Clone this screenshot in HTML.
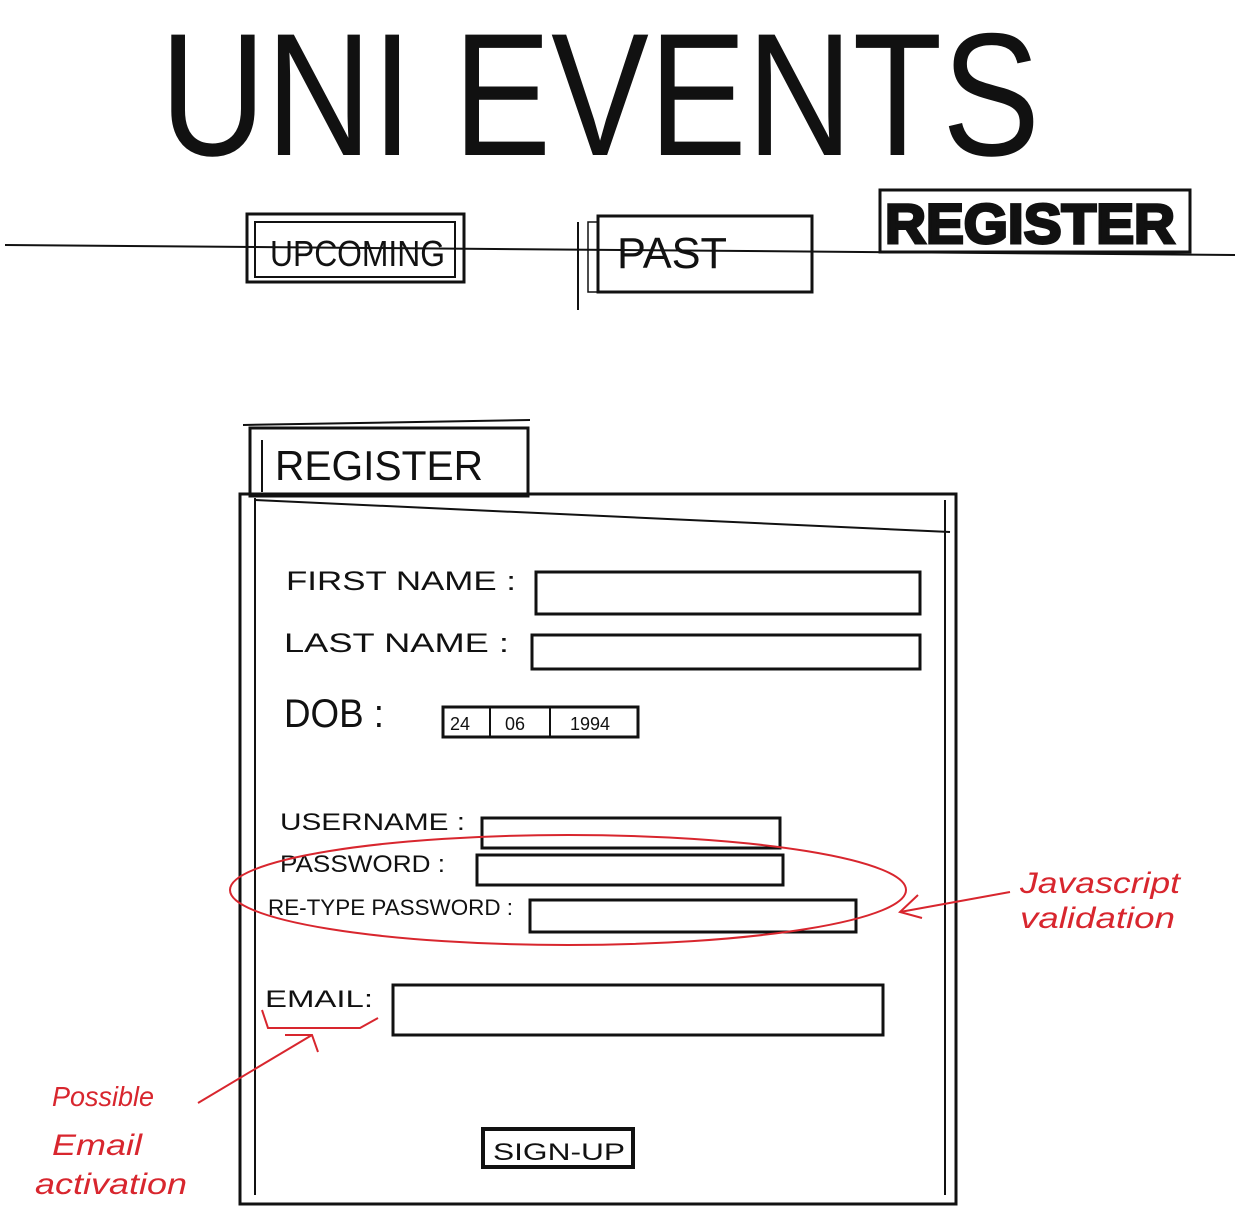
<!DOCTYPE html>
<html><head><meta charset="utf-8"><style>
html,body{margin:0;padding:0;background:#fff;width:1239px;height:1229px;overflow:hidden}
svg{display:block}
.t{font-family:"Liberation Sans",sans-serif;fill:#111}
.r{font-family:"Liberation Sans",sans-serif;fill:#d8262e;font-style:italic}
</style></head><body>
<svg width="1239" height="1229" viewBox="0 0 1239 1229" xmlns="http://www.w3.org/2000/svg">
<rect width="1239" height="1229" fill="#fff"/>
<!-- title -->
<text class="t" x="160" y="155" font-size="175" textLength="880" lengthAdjust="spacingAndGlyphs">UNI EVENTS</text>
<!-- nav line -->
<line x1="5" y1="245" x2="1235" y2="255" stroke="#111" stroke-width="2"/>
<line x1="578" y1="222" x2="578" y2="310" stroke="#111" stroke-width="2"/>
<rect x="247" y="214" width="217" height="68" fill="none" stroke="#111" stroke-width="3"/>
<rect x="255" y="222" width="200" height="55" fill="none" stroke="#111" stroke-width="2"/>
<text class="t" x="270" y="266" font-size="36" textLength="175" lengthAdjust="spacingAndGlyphs">UPCOMING</text>
<rect x="598" y="216" width="214" height="76" fill="none" stroke="#111" stroke-width="3"/>
<rect x="588" y="222" width="10" height="70" fill="none" stroke="#111" stroke-width="1.5"/>
<text class="t" x="617" y="268" font-size="44" textLength="110" lengthAdjust="spacingAndGlyphs">PAST</text>
<rect x="880" y="190" width="310" height="62" fill="none" stroke="#111" stroke-width="3"/>
<text class="t" x="885" y="243" font-size="56" font-weight="bold" textLength="290" lengthAdjust="spacingAndGlyphs" stroke="#111" stroke-width="3">REGISTER</text>
<!-- tab -->
<rect x="250" y="428" width="278" height="68" fill="none" stroke="#111" stroke-width="3"/>
<line x1="243" y1="425" x2="530" y2="420" stroke="#111" stroke-width="2"/>
<line x1="262" y1="440" x2="262" y2="492" stroke="#111" stroke-width="2"/>
<text class="t" x="275" y="480" font-size="42" textLength="208" lengthAdjust="spacingAndGlyphs">REGISTER</text>
<!-- panel -->
<rect x="240" y="494" width="716" height="710" fill="none" stroke="#111" stroke-width="3"/>
<line x1="255" y1="498" x2="255" y2="1195" stroke="#111" stroke-width="2"/>
<line x1="255" y1="500" x2="950" y2="532" stroke="#111" stroke-width="2"/>
<line x1="945" y1="500" x2="945" y2="1195" stroke="#111" stroke-width="2"/>
<!-- fields -->
<g font-size="27">
<text class="t" x="286" y="590" textLength="230" lengthAdjust="spacingAndGlyphs">FIRST NAME :</text>
<rect x="536" y="572" width="384" height="42" fill="none" stroke="#111" stroke-width="3"/>
<text class="t" x="284" y="652" textLength="225" lengthAdjust="spacingAndGlyphs">LAST  NAME :</text>
<rect x="532" y="635" width="388" height="34" fill="none" stroke="#111" stroke-width="3"/>
<text class="t" x="284" y="727" font-size="40" textLength="100" lengthAdjust="spacingAndGlyphs">DOB :</text>
<rect x="443" y="707" width="195" height="30" fill="none" stroke="#111" stroke-width="3"/>
<line x1="490" y1="707" x2="490" y2="737" stroke="#111" stroke-width="2"/>
<line x1="550" y1="707" x2="550" y2="737" stroke="#111" stroke-width="2"/>
<text class="t" x="450" y="730" font-size="18">24</text>
<text class="t" x="505" y="730" font-size="18">06</text>
<text class="t" x="570" y="730" font-size="18">1994</text>
<text class="t" x="280" y="830" font-size="24" textLength="185" lengthAdjust="spacingAndGlyphs">USERNAME :</text>
<rect x="482" y="818" width="298" height="30" fill="none" stroke="#111" stroke-width="3"/>
<text class="t" x="280" y="872" font-size="24" textLength="165" lengthAdjust="spacingAndGlyphs">PASSWORD :</text>
<rect x="477" y="855" width="306" height="30" fill="none" stroke="#111" stroke-width="3"/>
<text class="t" x="268" y="915" font-size="22" textLength="245" lengthAdjust="spacingAndGlyphs">RE-TYPE PASSWORD :</text>
<rect x="530" y="900" width="326" height="32" fill="none" stroke="#111" stroke-width="3"/>
<text class="t" x="265" y="1007" font-size="24" textLength="108" lengthAdjust="spacingAndGlyphs">EMAIL:</text>
<rect x="393" y="985" width="490" height="50" fill="none" stroke="#111" stroke-width="3"/>
</g>
<rect x="483" y="1129" width="150" height="38" fill="none" stroke="#111" stroke-width="4"/>
<text class="t" x="493" y="1160" font-size="24" textLength="132" lengthAdjust="spacingAndGlyphs">SIGN-UP</text>
<!-- red annotations -->
<ellipse cx="568" cy="890" rx="338" ry="55" fill="none" stroke="#d8262e" stroke-width="2"/>
<line x1="1010" y1="892" x2="900" y2="912" stroke="#d8262e" stroke-width="2"/>
<polyline points="918,895 900,912 922,918" fill="none" stroke="#d8262e" stroke-width="2"/>
<text class="r" x="1020" y="893" font-size="30" textLength="160" lengthAdjust="spacingAndGlyphs">Javascript</text>
<text class="r" x="1020" y="928" font-size="30" textLength="155" lengthAdjust="spacingAndGlyphs">validation</text>
<path d="M262 1010 L268 1028 L360 1028 L378 1018" fill="none" stroke="#d8262e" stroke-width="2"/>
<line x1="198" y1="1103" x2="312" y2="1035" stroke="#d8262e" stroke-width="2"/>
<polyline points="285,1035 312,1035 318,1052" fill="none" stroke="#d8262e" stroke-width="2"/>
<text class="r" x="52" y="1106" font-size="28" textLength="102" lengthAdjust="spacingAndGlyphs">Possible</text>
<text class="r" x="52" y="1155" font-size="30" textLength="90" lengthAdjust="spacingAndGlyphs">Email</text>
<text class="r" x="35" y="1194" font-size="30" textLength="152" lengthAdjust="spacingAndGlyphs">activation</text>
</svg>
</body></html>
